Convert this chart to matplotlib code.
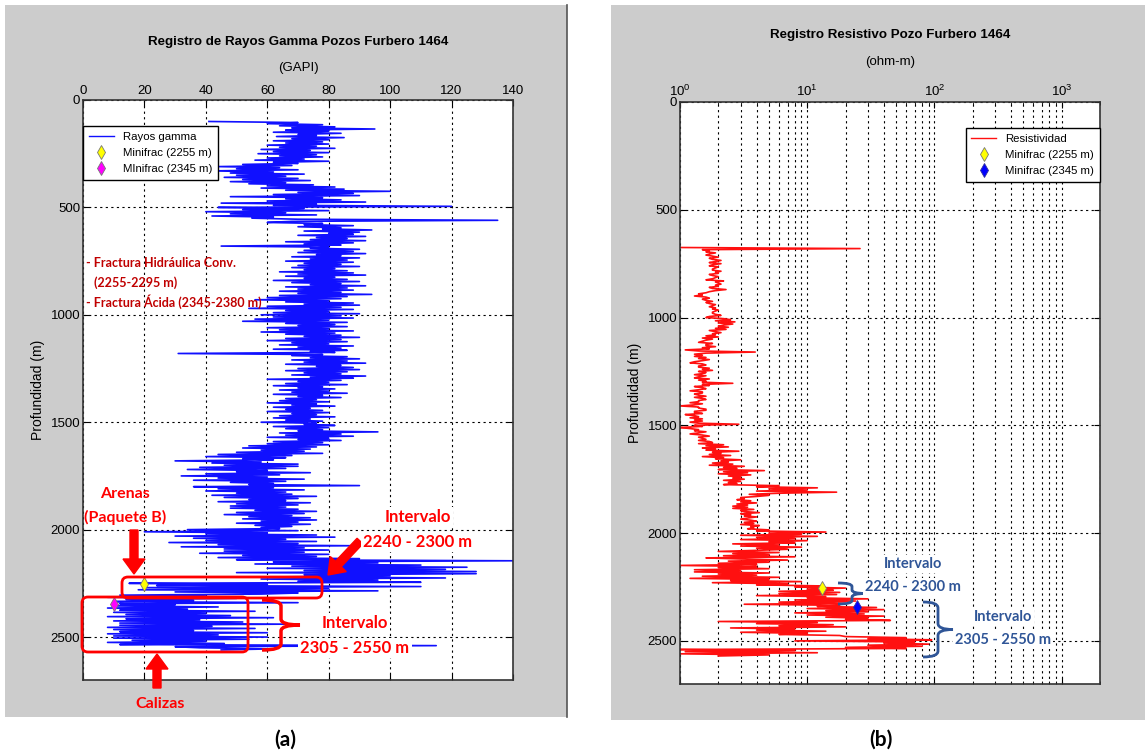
import matplotlib
matplotlib.use("Agg")
import matplotlib.pyplot as plt
import numpy as np
from matplotlib import font_manager
from matplotlib.patches import Rectangle, FancyBboxPatch, FancyArrow, PathPatch
from matplotlib.path import Path
from matplotlib.lines import Line2D

# ---- data (one sample every 5 m) ----
gamma_depth = np.arange(100, 2565, 5)
gamma_api = [
  41, 70, 60, 78, 64, 82, 68, 95, 66, 80, 62, 84, 70, 76, 63, 85, 68, 80, 62, 78,          # 100
  66, 80, 60, 76, 64, 82, 58, 74, 62, 80, 57, 76, 64, 78, 60, 72, 56, 80, 62, 70,          # 200
  52, 68, 44, 64, 50, 70, 42, 62, 48, 72, 50, 66, 46, 70, 52, 74, 48, 66, 54, 75,          # 300
  60, 82, 58, 85, 66, 100, 70, 88, 62, 90, 48, 78, 66, 84, 60, 92, 45, 76, 62, 120,        # 400
  44, 72, 52, 80, 40, 66, 48, 76, 42, 62, 55, 70, 135, 68, 60, 78, 72, 88, 70, 84,         # 500
  78, 94, 72, 90, 80, 88, 70, 92, 76, 86, 74, 92, 66, 88, 72, 84, 45, 80, 74, 90,          # 600
  72, 88, 70, 92, 76, 84, 68, 90, 74, 86, 66, 88, 72, 84, 70, 90, 68, 82, 72, 86,          # 700
  64, 88, 70, 92, 66, 82, 72, 86, 62, 90, 68, 84, 74, 92, 66, 86, 70, 88, 64, 84,          # 800
  70, 94, 64, 86, 60, 84, 56, 80, 66, 88, 72, 90, 60, 84, 54, 88, 66, 80, 62, 90,          # 900
  58, 84, 62, 88, 56, 80, 52, 86, 66, 82, 70, 86, 60, 80, 64, 88, 58, 82, 66, 84,          # 1000
  72, 90, 66, 84, 60, 86, 68, 80, 64, 88, 70, 84, 62, 86, 74, 82, 31, 78, 68, 86,          # 1100
  74, 90, 68, 86, 72, 92, 66, 84, 76, 88, 70, 90, 66, 86, 72, 84, 68, 92, 74, 88,          # 1200
  60, 84, 70, 80, 66, 86, 62, 78, 70, 82, 64, 80, 68, 86, 62, 78, 70, 84, 66, 76,          # 1300
  64, 80, 60, 76, 68, 82, 62, 74, 66, 78, 60, 80, 68, 76, 64, 82, 62, 74, 66, 78,          # 1400
  58, 76, 72, 82, 62, 80, 66, 78, 70, 96, 64, 84, 66, 88, 60, 80, 70, 84, 62, 78,          # 1500
  60, 80, 54, 76, 52, 74, 58, 72, 50, 78, 44, 68, 40, 66, 52, 62, 30, 58, 42, 70,          # 1600
  46, 70, 38, 66, 34, 60, 50, 74, 40, 64, 32, 60, 44, 72, 36, 66, 48, 62, 54, 90,          # 1700
  36, 62, 44, 72, 40, 66, 50, 68, 42, 76, 46, 70, 54, 66, 44, 74, 50, 70, 48, 66,          # 1800
  48, 70, 56, 76, 50, 72, 46, 68, 54, 74, 52, 76, 58, 70, 50, 74, 56, 68, 58, 64,          # 1900
  34, 70, 20, 60, 40, 76, 30, 82, 36, 66, 40, 76, 28, 70, 44, 88, 32, 72, 46, 80,          # 2000
  46, 72, 38, 80, 52, 76, 44, 90, 50, 140, 62, 96, 56, 110, 68, 125, 60, 118, 72, 128,     # 2100
  50, 128, 72, 100, 64, 118, 58, 96, 70, 110, 15, 60, 24, 110, 20, 80, 18, 96, 30, 70,     # 2200
  58, 12, 40, 8, 50, 14, 36, 10, 70, 12, 30, 10, 44, 8, 34, 12, 56, 10, 40, 14,            # 2300
  48, 8, 62, 14, 38, 10, 52, 12, 66, 12, 42, 8, 56, 10, 36, 12, 60, 8, 44, 10,             # 2400
  60, 10, 54, 16, 40, 8, 46, 12, 115, 30, 38, 62, 45,                                      # 2500
]

res_depth = np.arange(675, 2575, 5)
res_ohm = [
  1.0,                                                                                     # 675
  26, 1.5, 1.7, 1.6, 1.9, 1.7, 1.6, 1.8, 2.0, 1.7, 1.8, 2.1, 1.9, 1.7, 2.1, 1.8, 1.7, 2.0, 1.9, 1.8,  # 680
  1.8, 2.1, 1.9, 2.0, 1.7, 1.8, 2.0, 1.9, 1.8, 1.6, 2.2, 1.9, 2.0, 2.1, 1.9, 2.0, 1.7, 1.8, 2.3, 1.9,  # 780
  1.7, 1.6, 1.4, 1.5, 1.3, 1.6, 1.7, 1.5, 1.6, 1.8, 1.6, 1.7, 1.9, 1.8, 1.7, 1.9, 1.8, 2.0, 1.9, 1.8,  # 880
  1.8, 1.9, 2.1, 1.7, 1.6, 2.2, 2.5, 1.9, 2.7, 2.0, 2.6, 2.2, 2.0, 2.4, 1.9, 2.3, 1.7, 1.9, 2.1, 1.8,  # 980
  1.9, 1.6, 2.0, 1.5, 1.8, 1.6, 1.5, 1.4, 1.8, 1.6, 1.6, 1.9, 1.5, 1.7, 1.1, 1.4, 3.9, 1.6, 1.3, 1.5,  # 1080
  1.3, 1.6, 1.4, 1.7, 1.5, 1.3, 1.2, 1.5, 1.6, 1.4, 1.4, 1.7, 1.5, 1.8, 1.4, 1.6, 1.5, 1.3, 1.6, 1.4,  # 1180
  1.3, 1.7, 1.4, 1.6, 1.5, 2.6, 1.5, 1.7, 1.3, 1.5, 1.6, 1.4, 1.2, 1.5, 1.5, 1.3, 1.4, 1.6, 1.3, 1.5,  # 1280
  1.6, 1.4, 1.4, 1.2, 1.5, 1.3, 1.0, 1.4, 1.4, 1.6, 1.6, 1.3, 1.3, 1.5, 1.1, 1.3, 1.4, 1.2, 1.5, 1.3,  # 1380
  1.5, 1.2, 1.4, 2.9, 1.3, 1.5, 1.0, 1.2, 1.4, 1.3, 1.6, 1.4, 1.2, 1.5, 1.7, 1.4, 1.5, 1.6, 1.4, 1.7,  # 1480
  1.8, 1.4, 2.2, 1.6, 2.4, 1.5, 1.9, 1.6, 2.9, 1.8, 2.1, 1.7, 2.5, 1.5, 2.2, 1.9, 3.0, 2.1, 2.4, 1.8,  # 1580
  2.6, 1.7, 3.2, 2.2, 2.8, 2.0, 4.6, 2.2, 3.4, 2.0, 3.6, 2.4, 3.0, 2.6, 3.2, 2.2, 3.0, 2.4, 2.8, 2.2,  # 1680
  6, 4, 12, 5, 10, 4, 17, 6, 3.5, 5, 4, 3, 3.2, 2.8, 3.6, 3.0, 4.0, 2.8, 3.4, 2.6,                    # 1780
  3.4, 2.6, 3.8, 3.0, 3.2, 4.2, 3.0, 3.6, 3.2, 4.0, 3.4, 3.0, 3.6, 4.0, 3.2, 3.8, 3.0, 4.2, 3.6, 3.8,  # 1880
  3.4, 5, 4, 14, 5, 9, 3, 12, 4, 8, 3, 10, 5, 8, 2.6, 6, 3, 9, 4, 7,                                  # 1980
  4, 2, 6, 2.6, 5, 2.2, 8, 1.6, 3, 7, 2.4, 5, 2, 4, 1.0, 4, 2, 5, 1.3, 3,                             # 2080
  1.3, 5, 2, 4, 1.5, 6, 1.2, 5, 2.5, 9, 1.8, 7, 4, 13, 8, 20, 10, 16, 6, 18,                          # 2180
  6, 17, 4, 14, 10, 30, 8, 24, 6, 20, 3.2, 18, 12, 35, 10, 40, 14, 30, 8, 28,                         # 2280
  10, 40, 14, 30, 20, 45, 2.0, 12, 4, 16, 6, 20, 2.5, 8, 4, 14, 3, 10, 6, 18,                         # 2380
  20, 60, 30, 95, 8, 70, 40, 90, 30, 80, 20, 60, 1.0, 8, 1.1, 12, 1.0, 5, 2,                          # 2480
]

minifrac_depth = [2255, 2345]
minifrac_gamma = [20, 10]
minifrac_res = [13, 24.5]

gamma_xticks = [0, 20, 40, 60, 80, 100, 120, 140]
depth_ticks = [0, 500, 1000, 1500, 2000, 2500]

# ---- fonts ----
names = {f.name for f in font_manager.fontManager.ttflist}
if "Liberation Sans Narrow" in names:
  mfont = ["Liberation Sans Narrow", "DejaVu Sans"]
  k = 1.15
else:
  mfont = ["Liberation Sans", "DejaVu Sans"]
  k = 1.0
plt.rcParams["font.family"] = mfont
afont = ["Lato", "DejaVu Sans"]

W, H = 1145, 755
fig = plt.figure(figsize=(W / 100, H / 100), dpi=100)
T = fig.dpi_scale_trans

def px(x, y):
  return (x / 100.0, (H - y) / 100.0)

# gray MATLAB figure panels
fig.add_artist(Rectangle(px(5, 717), 5.62, 7.12, transform=T, facecolor="#cccccc", edgecolor="none", zorder=-2))
fig.add_artist(Rectangle(px(611, 720), 5.40, 7.15, transform=T, facecolor="#cccccc", edgecolor="none", zorder=-2))
fig.add_artist(Line2D([5.67, 5.67], [(H - 717) / 100, (H - 5) / 100], transform=T, color="#555555", lw=1.2, zorder=-1))

grid_kw = dict(color="k", linestyle=(0, (2, 3)), linewidth=0.8)

def style_axes(ax):
  ax.xaxis.set_ticks_position("both")
  ax.xaxis.set_label_position("top")
  ax.tick_params(axis="both", which="both", direction="in", top=True, bottom=True, left=True, right=True,
                 labeltop=True, labelbottom=False, labelsize=9.5 * k, pad=2)
  ax.tick_params(which="major", length=4)
  for s in ax.spines.values():
    s.set_linewidth(1.2)
    s.set_color("#333333")

leg_kw = dict(borderaxespad=0, fancybox=False, edgecolor="k", framealpha=1, fontsize=8.2 * k,
              handlelength=2.2, borderpad=0.5, labelspacing=0.55)

# ---- (a) gamma ray ----
axL = fig.add_axes([83 / W, 1 - 680 / H, 430 / W, 580 / H])
axL.plot(gamma_api, gamma_depth, color="#1010ff", lw=1.2, label="Rayos gamma")
axL.plot(minifrac_gamma[0], minifrac_depth[0], "d", ms=7, mfc="#ffff00", mec="#777777", mew=0.6, label="Minifrac (2255 m)")
axL.plot(minifrac_gamma[1], minifrac_depth[1], "d", ms=7, mfc="#ff00ff", mec="#777777", mew=0.6, label="MInifrac (2345 m)")
axL.set_xlim(0, 140)
axL.set_ylim(2700, 0)
axL.set_xticks(gamma_xticks)
axL.set_yticks(depth_ticks)
axL.grid(True, **grid_kw)
style_axes(axL)
axL.set_ylabel("Profundidad (m)", fontsize=10 * k, labelpad=4)
leg = axL.legend(loc="upper left", bbox_to_anchor=(0, 0.955), **leg_kw)
leg.get_lines()[0].set_linewidth(1.0)

# ---- (b) resistivity ----
axR = fig.add_axes([680 / W, 1 - 684 / H, 420 / W, 582 / H])
axR.plot(res_ohm, res_depth, color="#ff1010", lw=1.2, label="Resistividad")
axR.plot(minifrac_res[0], minifrac_depth[0], "d", ms=7, mfc="#ffff00", mec="#777777", mew=0.6, label="Minifrac (2255 m)")
axR.plot(minifrac_res[1], minifrac_depth[1], "d", ms=7, mfc="#0000ff", mec="#333399", mew=0.6, label="Minifrac (2345 m)")
axR.set_xscale("log")
axR.set_xlim(1, 2000)
axR.set_ylim(2700, 0)
axR.set_yticks(depth_ticks)
axR.grid(True, which="major", **grid_kw)
axR.grid(True, which="minor", axis="x", **grid_kw)
style_axes(axR)
axR.tick_params(which="minor", length=2)
axR.set_ylabel("Profundidad (m)", fontsize=10 * k, labelpad=4)
leg = axR.legend(loc="upper right", bbox_to_anchor=(1, 0.955), **leg_kw)
leg.get_lines()[0].set_linewidth(1.0)

# titles (MATLAB style, above the top tick labels)
fig.text(*px(298, 42), "Registro de Rayos Gamma Pozos Furbero 1464", transform=T, ha="center", va="center",
         fontsize=9.6 * k, fontweight="bold")
fig.text(*px(298, 68), "(GAPI)", transform=T, ha="center", va="center", fontsize=9.5 * k)
fig.text(*px(890, 35), "Registro Resistivo Pozo Furbero 1464", transform=T, ha="center", va="center",
         fontsize=9.6 * k, fontweight="bold")
fig.text(*px(890, 62), "(ohm-m)", transform=T, ha="center", va="center", fontsize=9.5 * k)

# ---- annotations ----
def note(x, y, s, color, size, ha="center", box=False):
  kw = dict(transform=T, ha=ha, va="center", color=color, fontsize=size, fontweight="bold", family=afont, zorder=6)
  if box:
    kw["bbox"] = dict(facecolor="white", edgecolor="none", pad=1.5)
  fig.text(*px(x, y), s, **kw)

def arrow(x0, y0, x1, y1):
  a, b = px(x0, y0)
  c, d = px(x1, y1)
  fig.add_artist(FancyArrow(a, b, c - a, d - b, width=0.08, head_width=0.22, head_length=0.15,
                            length_includes_head=True, transform=T, color="#ff0000", zorder=6))

def rbox(x0, y0, x1, y1):
  fig.add_artist(FancyBboxPatch(px(x0, y1), (x1 - x0) / 100, (y1 - y0) / 100, boxstyle="round,pad=0,rounding_size=0.06",
                                transform=T, fill=False, edgecolor="#ff0000", lw=2, zorder=6))

def brace(x0, y0, y1, w, color, lw):
  ym = (y0 + y1) / 2
  xv = x0 + w * 0.5
  r = min(6, (y1 - y0) / 6)
  pts = [(x0, y0), (xv, y0), (xv, y0 + r), (xv, ym - r), (xv, ym), (x0 + w, ym),
         (xv, ym), (xv, ym + r), (xv, y1 - r), (xv, y1), (x0, y1)]
  codes = [Path.MOVETO, Path.CURVE3, Path.CURVE3, Path.LINETO, Path.CURVE3, Path.CURVE3,
           Path.CURVE3, Path.CURVE3, Path.LINETO, Path.CURVE3, Path.CURVE3]
  fig.add_artist(PathPatch(Path([px(*p) for p in pts], codes), transform=T, fill=False, edgecolor=color, lw=lw, zorder=6))

dred = "#c00000"
note(86, 263, "- Fractura Hidráulica Conv.", dred, 9, ha="left")
note(94, 283, "(2255-2295 m)", dred, 9, ha="left")
note(86, 302, "- Fractura Ácida (2345-2380 m)", dred, 9, ha="left")

note(125, 494, "Arenas", "#ff0000", 11.5)
note(125, 517, "(Paquete B)", "#ff0000", 11.5)
arrow(134, 530, 134, 574)
note(418, 517, "Intervalo", "#ff0000", 12, box=True)
note(418, 542, "2240 - 2300 m", "#ff0000", 12, box=True)
arrow(360, 541, 328, 575)
rbox(122, 577, 322, 598)
rbox(82, 597, 248, 652)
brace(262, 600, 650, 38, "#ff0000", 2.5)
note(355, 623, "Intervalo", "#ff0000", 12, box=True)
note(355, 648, "2305 - 2550 m", "#ff0000", 12, box=True)
arrow(157, 688, 157, 654)
note(160, 704, "Calizas", "#ff0000", 11.5)

blue = "#2f5597"
note(913, 564, "Intervalo", blue, 10.5, box=True)
note(913, 587, "2240 - 2300 m", blue, 10.5, box=True)
brace(838, 583, 604, 28, blue, 2)
brace(923, 602, 657, 30, blue, 2)
note(1003, 617, "Intervalo", blue, 10.5, box=True)
note(1003, 640, "2305 - 2550 m", blue, 10.5, box=True)

note(285, 740, "(a)", "black", 15)
note(881, 740, "(b)", "black", 15)

fig.savefig("out.png", dpi=100, facecolor="white")
